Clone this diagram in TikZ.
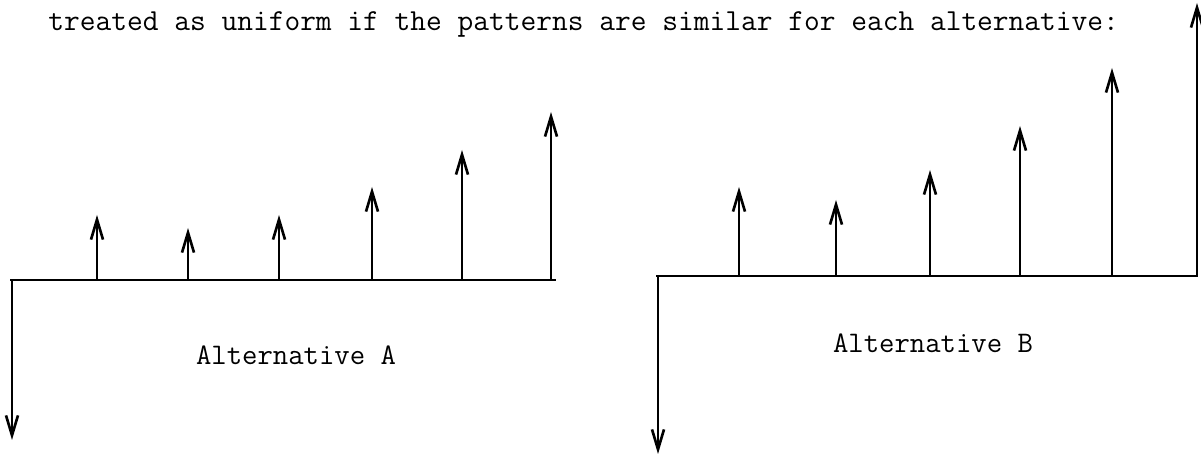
\documentclass[tikz,border=0pt]{standalone}
\usepackage{tikz}
\usetikzlibrary{positioning,arrows.meta}

\begin{document}
\begin{tikzpicture}[x=0.02cm,y=-0.02cm,
          every node/.style={font=\ttfamily\fontsize{17}{20}\selectfont,inner sep=0pt},
          flow/.style={line width=1.5pt,-{Straight Barb[length=4mm,width=2.4mm,line width=1.5pt]}},
          axis/.style={line width=1.6pt},
        ]
        \useasboundingbox (0,0) rectangle (1201,455);
        \node[anchor=base west,font=\ttfamily\fontsize{17.4}{20}\selectfont] (head) at (48,31)
          {treated as uniform if the patterns are similar for each alternative:};

        % Alternative A
        \coordinate (a0) at (12,280);
        \coordinate (aend) at (556,280);
        \coordinate (aout) at (12,440);
        \draw[axis] (10,280) -- (aend);
        \draw[flow] (a0) -- (aout);
        \coordinate (a1) at (97,280);  \coordinate (t1) at (97,215);
        \coordinate (a2) at (188,280); \coordinate (t2) at (188,228);
        \coordinate (a3) at (279,280); \coordinate (t3) at (279,215);
        \coordinate (a4) at (372,280); \coordinate (t4) at (372,187);
        \coordinate (a5) at (462,280); \coordinate (t5) at (462,150);
        \coordinate (a6) at (551,280); \coordinate (t6) at (551,112);
        \draw[flow] (a1) -- (t1);
        \draw[flow] (a2) -- (t2);
        \draw[flow] (a3) -- (t3);
        \draw[flow] (a4) -- (t4);
        \draw[flow] (a5) -- (t5);
        \draw[flow] (a6) -- (t6);
        \node[anchor=base] (labA) at (296,365) {Alternative A};

        % Alternative B
        \coordinate (b0) at (658,276);
        \coordinate (bend) at (1198,276);
        \coordinate (bout) at (658,454);
        \draw[axis] (656,276) -- (bend);
        \draw[flow] (b0) -- (bout);
        \coordinate (b1) at (739,276);  \coordinate (u1) at (739,187);
        \coordinate (b2) at (836,276);  \coordinate (u2) at (836,200);
        \coordinate (b3) at (930,276);  \coordinate (u3) at (930,170);
        \coordinate (b4) at (1020,276); \coordinate (u4) at (1020,126);
        \coordinate (b5) at (1112,276); \coordinate (u5) at (1112,68);
        \coordinate (b6) at (1197,276); \coordinate (u6) at (1197,3);
        \draw[flow] (b1) -- (u1);
        \draw[flow] (b2) -- (u2);
        \draw[flow] (b3) -- (u3);
        \draw[flow] (b4) -- (u4);
        \draw[flow] (b5) -- (u5);
        \draw[flow] (b6) -- (u6);
        \node[anchor=base] (labB) at (933,353) {Alternative B};
\end{tikzpicture}
\end{document}
